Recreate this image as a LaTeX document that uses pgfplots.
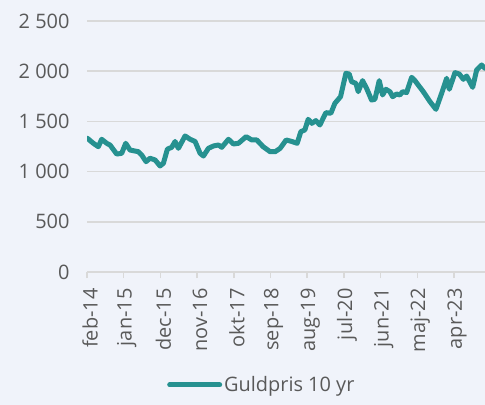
\documentclass[border=0pt]{standalone}
\usepackage{pgfplots}
\pgfplotsset{compat=1.18}
\usepackage{fontspec}
\setmainfont{Open Sans}
\definecolor{bg}{RGB}{240,243,250}
\definecolor{teal1}{RGB}{38,145,144}
\definecolor{gridgray}{RGB}{217,217,217}
\definecolor{textgray}{RGB}{89,89,89}
\begin{document}
\begin{tikzpicture}
\fill[bg] (0,0) rectangle (485bp,405bp);
\useasboundingbox (0,0) rectangle (485bp,405bp);
\begin{axis}[
  at={(87bp,133bp)}, anchor=south west,
  scale only axis, width=398bp, height=251bp,
  xmin=0, xmax=119.3, ymin=0, ymax=2500,
  axis x line*=bottom, axis y line*=left,
  y axis line style={draw=none},
  x axis line style={draw=gridgray, line width=1.5bp},
  ytick={0,500,1000,1500,2000,2500},
  yticklabels={0,500,1 000,1 500,2 000,2 500},
  ymajorgrids, grid style={gridgray, line width=1.5bp},
  y tick style={draw=none},
  xtick={0,11,22,33,44,55,66,77,88,99,110},
  xticklabels={feb-14,jan-15,dec-15,nov-16,okt-17,sep-18,aug-19,jul-20,jun-21,maj-22,apr-23},
  major tick length=6bp, tick align=outside,
  x tick style={gridgray, line width=1.5bp},
  ticklabel style={font=\fontsize{20}{24}\selectfont, text=textgray},
  x tick label style={xshift=3bp, yshift=-7bp, rotate=90, anchor=east},
  y tick label style={xshift=-8bp},
  legend style={at={(0.201,-0.45)}, anchor=west, draw=none, fill=none,
    font=\fontsize{20}{24}\selectfont, text=textgray, inner sep=0pt},
  legend image code/.code={\draw[#1, line cap=round] (0bp,0bp) -- (50bp,0bp);},
]
\addplot[teal1, line width=5bp, line join=round, line cap=round] coordinates {
(0.1,1332)(1.9,1282)(3.4,1248)(4.4,1322)(5.9,1282)(6.9,1265)(8.9,1175)(10.4,1182)
(11.6,1282)(12.9,1215)(15.4,1198)(16.4,1165)(17.7,1099)(18.9,1133)(20.4,1116)
(21.9,1056)(22.9,1083)(24.1,1224)(25.4,1242)(26.4,1300)(27.4,1232)(29.4,1355)
(30.9,1322)(32.4,1300)(33.9,1182)(34.9,1155)(36.4,1232)(37.9,1255)(39.4,1265)
(40.4,1242)(42.4,1322)(43.9,1275)(45.4,1282)(47.7,1348)(49.4,1315)(50.9,1315)
(52.8,1248)(54.9,1198)(56.4,1198)(57.9,1232)(59.7,1315)(61.4,1300)(63.0,1282)
(64.1,1398)(65.3,1415)(66.3,1521)(67.4,1481)(68.6,1508)(69.8,1464)(71.6,1587)
(73.1,1581)(74.3,1680)(76.0,1746)(77.6,1979)(78.6,1972)(79.3,1896)(80.6,1879)
(81.3,1796)(82.6,1906)(83.8,1830)(85.3,1713)(86.3,1720)(87.6,1906)(88.6,1763)
(89.6,1820)(90.8,1796)(91.6,1746)(92.8,1773)(93.8,1763)(94.6,1796)(95.8,1787)
(97.3,1939)(98.3,1906)(100.8,1796)(102.8,1697)(104.6,1620)(106.3,1780)(107.8,1929)
(108.6,1820)(110.3,1986)(111.6,1972)(112.8,1919)(113.8,1952)(115.6,1839)
(116.8,2012)(118.3,2062)(119.3,2029)
};
\addlegendentry{Guldpris 10 yr}
\end{axis}
\end{tikzpicture}
\end{document}
